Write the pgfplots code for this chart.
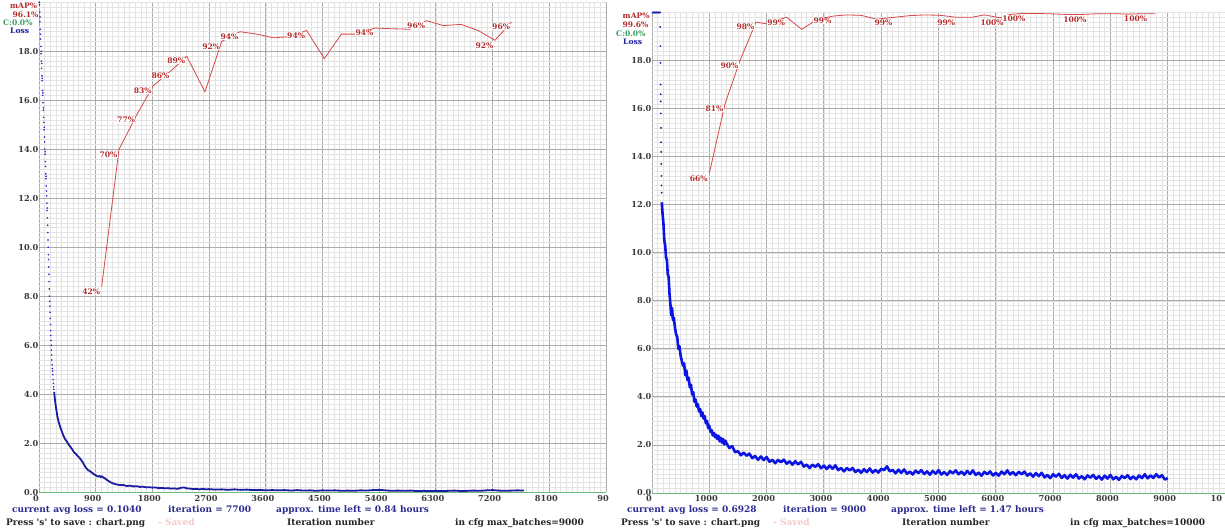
\documentclass[border=0pt]{standalone}
\usepackage{fontspec}
\setmainfont{DejaVu Serif}
\usepackage{pgfplots}
\usepackage{pgfplotstable}
\pgfplotsset{compat=1.18}

\definecolor{mapred}{HTML}{D84848}
\definecolor{maptext}{HTML}{B42A2A}
\definecolor{lossdark}{HTML}{1C1CA0}
\definecolor{lossbright}{HTML}{0C14E4}
\definecolor{dotblue}{HTML}{2E2EC8}
\definecolor{cgreen}{HTML}{6CBC7C}
\definecolor{cgreentext}{HTML}{3A9C5C}
\definecolor{majgrid}{HTML}{ABABAB}
\definecolor{mingrid}{HTML}{E3E3E3}
\definecolor{ticktext}{HTML}{3A3A3A}
\definecolor{navytext}{HTML}{2C2C90}
\definecolor{fadedpink}{HTML}{F4CACA}

% mAP points, left run (value = mAP/5)
\pgfplotstableread{
it v
995 8.4
1270 14.0
1550 15.4
1814 16.6
2095 17.2
2344 17.8
2634 16.35
2900 18.4
3190 18.8
3460 18.7
3720 18.55
3990 18.6
4248 18.85
4529 17.7
4800 18.7
5060 18.7
5332 18.95
5600 18.92
5888 18.9
6153 19.25
6417 19.05
6700 19.1
6970 18.85
7237 18.45
7502 19.2
}\mapA
\pgfplotstableread{
it v lab
995 8.4 42
1270 14.0 70
1550 15.4 77
1814 16.6 83
2095 17.2 86
2344 17.8 89
2900 18.4 92
3190 18.8 94
4248 18.85 94
5332 18.95 94
6153 19.25 96
7237 18.45 92
7502 19.2 96
}\labA

% mAP points, right run
\pgfplotstableread{
it v
1000 13.3
1274 16.2
1536 18.0
1815 19.6
1972 19.54
2350 19.8
2612 19.3
2875 19.7
3160 19.85
3400 19.9
3650 19.88
3921 19.72
4224 19.8
4500 19.87
4770 19.9
5040 19.88
5317 19.8
5580 19.8
5800 19.9
6073 19.78
6250 19.92
6452 19.96
6750 19.96
7000 19.94
7250 19.92
7516 19.92
7800 19.95
8100 19.95
8300 19.93
8575 19.95
8778 19.95
}\mapB
\pgfplotstableread{
it v lab
1000 13.3 66
1274 16.2 81
1536 18.0 90
1815 19.6 98
2350 19.8 99
3160 19.85 99
4224 19.8 99
5317 19.8 99
6073 19.78 100
6452 19.96 100
7516 19.92 100
8575 19.95 100
}\labB

\pgfplotsset{
  darknet/.style={
    scale only axis,
    ymin=0, ymax=20,
    axis line style={draw=none},
    major tick length=0pt, minor tick length=0pt,
    grid=both,
    major grid style={draw=majgrid, line width=0.9pt},
    minor grid style={draw=mingrid, line width=0.5pt},
    ytick={0,2,...,18},
    yticklabels={0.0,2.0,4.0,6.0,8.0,10.0,12.0,14.0,16.0,18.0},
    minor ytick={0,0.2,...,20},
    scaled x ticks=false,
    ticklabel style={font=\fontsize{8.2}{10}\selectfont\bfseries, text=ticktext},
    yticklabel style={inner xsep=0.5pt},
    xticklabel style={inner ysep=2.5pt, xshift=-3pt},
  },
  maplabels/.style={
    nodes near coords={\pgfplotspointmeta\%},
    point meta=explicit symbolic,
    every node near coord/.style={anchor=west, xshift=-20pt, yshift=-5pt,
      font=\fontsize{7.6}{9}\selectfont\bfseries, text=maptext,
      fill=white, inner sep=0.4pt},
  },
}

\begin{document}
\begin{tikzpicture}[x=1pt,y=1pt]
\useasboundingbox (0,0) rectangle (1225,531);
\fill[white] (0,0) rectangle (1225,531);

% ---------- left chart ----------
\begin{axis}[darknet, at={(39pt,38.7pt)}, anchor=south west,
  width=567pt, height=490pt,
  xmin=0, xmax=9000, xtick={0,900,...,9000},
  xticklabels={0,900,1800,2700,3600,4500,5400,6300,7200,8100,90},
  minor xtick={0,90,...,9000}]
  \addplot[cgreen, line width=1pt] coordinates {(0,0) (9000,0)};
  \addplot[only marks, mark=*, mark size=0.6pt, dotblue] coordinates {
    (3,20)(6,20)(9,19.9)(12,19.6)(14,19.2)(17,19.4)(20,18.9)(23,18.5)(26,18.7)
    (29,18.2)(32,17.9)(35,18.0)(38,17.6)(41,17.3)(44,17.5)(47,17.0)(50,16.8)
    (53,16.9)(56,16.4)(59,16.2)(62,16.3)(65,15.9)(68,15.6)(71,15.7)(74,15.3)
    (77,15.1)(80,14.8)(83,14.9)(86,14.5)(89,14.3)(92,14.0)(95,13.8)(98,13.9)
    (101,13.5)(104,13.3)(107,13.0)(110,12.8)(113,12.9)(116,12.5)(119,12.3)
    (122,12.1)(125,11.8)(128,11.5)(131,11.6)(134,11.2)(137,10.9)(140,10.6)
    (143,10.3)(146,10.0)(149,9.7)(152,9.5)(155,9.2)(158,8.9)(161,8.6)(164,8.3)
    (167,8.0)(170,7.8)(173,7.6)(176,7.35)(179,7.1)(182,6.85)(185,6.6)(188,6.4)
    (191,6.2)(194,6.0)(197,5.8)(200,5.6)(204,5.4)(208,5.2)(212,5.05)(216,4.95)
    (220,4.8)(224,4.6)(228,4.45)(232,4.3)(236,4.2)};
  \addplot[lossdark, line width=1.8pt, line join=round] coordinates {
    (240,4.1)(250,3.85)(260,3.65)(270,3.45)(280,3.3)(290,3.12)(300,3.0)(315,2.85)
    (330,2.72)(345,2.6)(360,2.5)(375,2.4)(390,2.3)(405,2.22)(420,2.15)(440,2.08)
    (460,2.0)(480,1.92)(500,1.85)(520,1.78)(540,1.7)(560,1.62)(580,1.58)(600,1.52)
    (620,1.46)(640,1.42)(660,1.35)(680,1.28)(700,1.2)(720,1.1)(740,1.02)(760,0.96)
    (780,0.9)(800,0.88)(820,0.84)(840,0.8)(860,0.76)(880,0.72)(900,0.7)(920,0.66)
    (940,0.64)(960,0.67)(980,0.62)(1000,0.66)(1020,0.6)(1040,0.58)(1060,0.54)
    (1080,0.5)(1100,0.47)(1130,0.42)(1160,0.38)(1190,0.35)(1220,0.33)(1250,0.31)
    (1280,0.3)(1310,0.29)(1340,0.3)(1370,0.27)(1400,0.26)(1450,0.27)(1500,0.24)
    (1550,0.25)(1600,0.22)(1650,0.23)(1700,0.2)(1750,0.21)(1800,0.19)(1850,0.2)
    (1900,0.17)(1950,0.18)(2000,0.16)(2050,0.17)(2100,0.15)(2150,0.16)(2200,0.14)
    (2250,0.18)(2300,0.2)(2350,0.16)(2400,0.15)(2450,0.13)(2500,0.14)(2550,0.12)
    (2600,0.14)(2650,0.12)(2700,0.13)(2800,0.11)(2900,0.12)(3000,0.1)(3100,0.12)
    (3200,0.1)(3300,0.11)(3400,0.09)(3500,0.1)(3600,0.08)(3700,0.09)(3800,0.08)
    (3900,0.09)(4000,0.07)(4100,0.09)(4200,0.07)(4300,0.08)(4400,0.06)(4500,0.08)
    (4600,0.07)(4700,0.08)(4800,0.06)(4900,0.07)(5000,0.06)(5100,0.08)(5200,0.07)
    (5300,0.09)(5400,0.1)(5500,0.08)(5600,0.06)(5700,0.07)(5800,0.06)(5900,0.07)
    (6000,0.05)(6100,0.06)(6200,0.05)(6300,0.06)(6400,0.05)(6500,0.06)(6600,0.07)
    (6700,0.05)(6800,0.06)(6900,0.07)(7000,0.06)(7100,0.08)(7200,0.09)(7300,0.07)
    (7400,0.06)(7500,0.07)(7600,0.08)(7700,0.07)};
  \addplot[mapred, line width=0.8pt] table[x=it, y=v] {\mapA};
  \addplot[draw=none, mark=none, maplabels] table[x=it, y=v, meta=lab] {\labA};
\end{axis}

% ---------- right chart ----------
\begin{axis}[darknet, at={(652pt,38pt)}, anchor=south west,
  width=573pt, height=480.5pt,
  xmin=0, xmax=10000, xtick={0,1000,...,10000},
  xticklabels={0,1000,2000,3000,4000,5000,6000,7000,8000,9000,\llap{10}},
  minor xtick={0,100,...,10000}]
  \addplot[cgreen, line width=1pt] coordinates {(0,0) (10000,0)};
  \addplot[only marks, mark=*, mark size=0.7pt, lossdark] coordinates {
    (10,20)(20,20)(30,20)(40,20)(50,20)(60,20)(70,20)(80,20)(90,20)(100,20)
    (110,20)(120,20)(130,20)(140,20)
    (143,19.4)(146,18.6)(148,17.9)(150,17.0)(151,16.6)(152,16.3)(154,15.8)
    (156,15.2)(158,14.6)(160,14.2)(162,13.7)(164,13.2)(166,12.8)(168,12.5)};
  \addplot[lossbright, line width=2.6pt, line join=round] coordinates {
    (170,12.1)(185,11.6)(200,11.2)(215,10.5)(230,10.3)(245,9.8)(260,9.7)(275,9.1)
    (290,9.0)(305,8.3)(320,7.9)(335,7.4)(350,7.7)(365,7.2)(380,7.3)(400,6.9)
    (420,6.6)(440,6.5)(460,6.0)(480,6.1)(500,5.7)(520,5.5)(540,5.3)(560,5.4)
    (580,4.9)(600,5.1)(620,4.7)(640,4.8)(660,4.4)(680,4.5)(700,4.1)(720,4.2)
    (740,3.8)(760,3.9)(780,3.6)(800,3.7)(820,3.4)(840,3.5)(860,3.2)(880,3.35)
    (900,3.1)(920,3.2)(940,2.9)(960,3.0)(980,2.7)(1000,2.8)(1020,2.55)(1040,2.62)
    (1060,2.4)(1080,2.5)(1100,2.32)(1120,2.42)(1140,2.25)(1160,2.38)(1180,2.15)
    (1200,2.3)(1220,2.1)(1240,2.25)(1260,2.02)(1280,2.18)(1300,2.07)
    (1350,1.87)(1400,1.95)(1450,1.70)(1500,1.74)(1550,1.57)(1600,1.68)(1650,1.55)
    (1700,1.64)(1750,1.45)(1800,1.54)(1850,1.38)(1900,1.52)(1950,1.37)(2000,1.50)
    (2050,1.30)(2100,1.38)(2150,1.24)(2200,1.38)(2250,1.28)(2300,1.39)(2350,1.22)
    (2400,1.32)(2450,1.18)(2500,1.32)(2550,1.19)(2600,1.30)(2650,1.10)(2700,1.18)
    (2750,1.04)(2800,1.18)(2850,1.09)(2900,1.20)(2950,1.03)(3000,1.14)(3050,1.00)
    (3100,1.14)(3150,1.01)(3200,1.15)(3250,0.95)(3300,1.04)(3350,0.90)(3400,1.04)
    (3450,0.94)(3500,1.04)(3550,0.87)(3600,0.97)(3650,0.84)(3700,0.99)(3750,0.87)
    (3800,1.02)(3850,0.85)(3900,0.96)(3950,0.85)(4000,1.01)(4050,0.95)(4100,1.11)
    (4150,0.90)(4200,0.96)(4250,0.82)(4300,0.97)(4350,0.84)(4400,0.98)(4450,0.80)
    (4500,0.89)(4550,0.77)(4600,0.93)(4650,0.83)(4700,0.95)(4750,0.79)(4800,0.90)
    (4850,0.76)(4900,0.92)(4950,0.80)(5000,0.95)(5050,0.77)(5100,0.87)(5150,0.75)
    (5200,0.91)(5250,0.82)(5300,0.94)(5350,0.78)(5400,0.89)(5450,0.76)(5500,0.92)
    (5550,0.79)(5600,0.94)(5650,0.75)(5700,0.85)(5750,0.72)(5800,0.88)(5850,0.78)
    (5900,0.90)(5950,0.73)(6000,0.84)(6050,0.72)(6100,0.89)(6150,0.78)(6200,0.94)
    (6250,0.77)(6300,0.87)(6350,0.74)(6400,0.88)(6450,0.78)(6500,0.89)(6550,0.72)
    (6600,0.82)(6650,0.68)(6700,0.83)(6750,0.70)(6800,0.84)(6850,0.65)(6900,0.75)
    (6950,0.62)(7000,0.78)(7050,0.68)(7100,0.80)(7150,0.63)(7200,0.74)(7250,0.60)
    (7300,0.76)(7350,0.64)(7400,0.78)(7450,0.60)(7500,0.70)(7550,0.57)(7600,0.73)
    (7650,0.64)(7700,0.75)(7750,0.59)(7800,0.70)(7850,0.56)(7900,0.72)(7950,0.60)
    (8000,0.75)(8050,0.57)(8100,0.67)(8150,0.55)(8200,0.71)(8250,0.62)(8300,0.74)
    (8350,0.58)(8400,0.69)(8450,0.57)(8500,0.73)(8550,0.62)(8600,0.78)(8650,0.61)
    (8700,0.73)(8750,0.63)(8800,0.78)(8850,0.65)(8900,0.74)(8950,0.56)(9000,0.62)};
  \addplot[mapred, line width=0.8pt] table[x=it, y=v] {\mapB};
  \addplot[draw=none, mark=none, maplabels] table[x=it, y=v, meta=lab] {\labB};
\end{axis}

% ---------- corner legends ----------
\begin{scope}[every node/.style={anchor=west, inner sep=0pt,
    font=\fontsize{7.6}{9}\selectfont\bfseries}]
  \node[text=maptext] at (10,525) {mAP\%};
  \node[text=maptext] at (12.5,516.7) {96.1\%};
  \node[text=cgreentext] at (3,508.3) {C:0.0\%};
  \node[text=lossdark] at (10,500) {Loss};
  \node[text=maptext] at (622.5,515) {mAP\%};
  \node[text=maptext] at (622.5,506) {99.6\%};
  \node[text=cgreentext] at (616,497.7) {C:0.0\%};
  \node[text=lossdark] at (623,489.3) {Loss};
\end{scope}

% ---------- status lines ----------
\begin{scope}[every node/.style={anchor=base west, inner sep=0pt,
    font=\fontsize{9}{11}\selectfont\bfseries}]
  \node[text=navytext] at (12,19) {current avg loss = 0.1040};
  \node[text=navytext] at (168,19) {iteration = 7700};
  \node[text=navytext] at (276,19) {approx. time left = 0.84 hours};
  \node[text=black!85] at (6,6) {Press \textquotesingle s\textquotesingle{} to save : chart.png};
  \node[text=fadedpink] at (158,6) {- Saved};
  \node[text=black!85] at (287,6) {Iteration number};
  \node[text=black!85] at (455,6) {in cfg max\_batches=9000};
  \node[text=navytext] at (627,19) {current avg loss = 0.6928};
  \node[text=navytext] at (783,19) {iteration = 9000};
  \node[text=navytext] at (891,19) {approx. time left = 1.47 hours};
  \node[text=black!85] at (621,6) {Press \textquotesingle s\textquotesingle{} to save : chart.png};
  \node[text=fadedpink] at (773,6) {- Saved};
  \node[text=black!85] at (902,6) {Iteration number};
  \node[text=black!85] at (1070,6) {in cfg max\_batches=10000};
\end{scope}
\end{tikzpicture}
\end{document}
